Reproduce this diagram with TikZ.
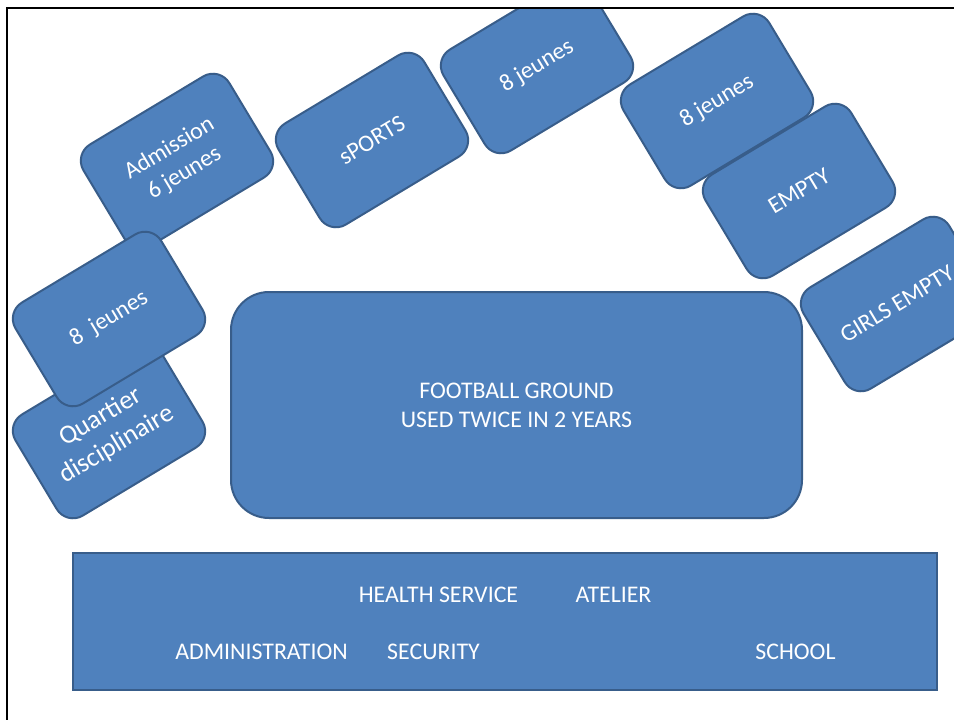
\documentclass[tikz,border=0pt]{standalone}
\usepackage{fontspec}
\setmainfont{Carlito}
\begin{document}
\begin{tikzpicture}[x=1pt,y=-1pt,
  block/.style={draw=blockline, fill=blockfill, line width=2pt, text=white,
    align=center, inner sep=0pt, font=\fontsize{23.85}{29}\selectfont},
  tilted/.style={block, rotate=31, minimum width=170pt, minimum height=118pt,
    rounded corners=19pt},
  label/.style={text=white, inner sep=0pt, font=\fontsize{23.85}{29}\selectfont}]
\definecolor{blockfill}{HTML}{4F81BD}
\definecolor{blockline}{HTML}{385D8A}
\useasboundingbox (0,0) rectangle (954,720);

\begin{scope}
\clip (7,8) rectangle (954,720);
% rooms around the ground, back to front
\node[tilted, font=\fontsize{26.5}{32}\selectfont] (quartier) at (109,431) {Quartier\\disciplinaire};
\node[tilted] (admission) at (177,161) {Admission\\6 jeunes};
\node[tilted] (left8) at (109,319) {8\ \ jeunes};
\node[tilted] (sports) at (372,140) {sPORTS};
\node[tilted] (top8) at (537,66) {8 jeunes};
\node[tilted] (right8) at (717,101) {8 jeunes};
\node[tilted] (empty) at (799,191) {EMPTY};
\node[tilted] (girls) at (897,304) {GIRLS EMPTY};

% football ground
\node[block, minimum width=571pt, minimum height=226pt, rounded corners=38pt]
  (ground) at (516.5,405) {FOOTBALL GROUND\\USED TWICE IN 2 YEARS};

% main building
\node[block, minimum width=864pt, minimum height=137pt] (building) at (505,621.5) {};
\node[label] (health) at (438.5,595) {HEALTH SERVICE};
\node[label] (atelier) at (613.5,595) {ATELIER};
\node[label] (admin) at (261.5,652) {ADMINISTRATION};
\node[label] (security) at (433.5,652) {SECURITY};
\node[label] (school) at (795.5,652) {SCHOOL};
\end{scope}

% page frame
\draw[line width=2.2pt] (960,8) -- (7,8) -- (7,726);
\end{tikzpicture}
\end{document}
